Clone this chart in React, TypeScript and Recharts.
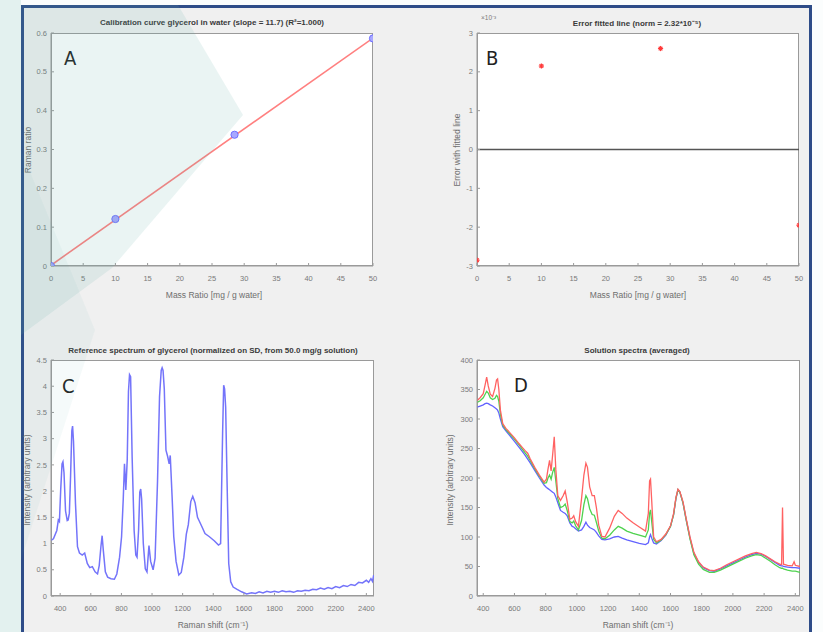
import React from "react";
import { ComposedChart, Line, Scatter, XAxis, YAxis, ReferenceLine } from "recharts";

const FONT = '"Liberation Sans", Arial, Helvetica, sans-serif';
const AXIS = "#9a9a9a";
const TICK = { fontSize: 7.5, fill: "#7a7a7a", fontFamily: FONT };

// A: calibration curve
const massRatio = [0, 10, 28.5, 50];
const ramanRatio = [0.0, 0.121, 0.338, 0.586];
const fitMass = [0, 50];
const fitRatio = [0.002, 0.587];
const massTicks = [0, 5, 10, 15, 20, 25, 30, 35, 40, 45, 50];
const ratioTicks = [0, 0.1, 0.2, 0.3, 0.4, 0.5, 0.6];

// B: residuals (x10^-3)
const errorVal = [-2.85, 2.15, 2.6, -1.95];
const errorTicks = [-3, -2, -1, 0, 1, 2, 3];

// C: reference spectrum
const shiftC = [
  340, 356, 378, 388, 395, 403, 412, 418, 425, 435, 446, 452, 460, 468, 476, 481, 487, 500, 513, 526,
  544, 560, 577, 593, 610, 628, 644, 655, 666, 674, 682, 695, 710, 732, 754, 770, 788, 801, 812, 820,
  829, 838, 846, 853, 860, 870, 883, 894, 902, 912, 920, 926, 932, 943, 956, 967, 980, 991, 1007, 1020,
  1036, 1049, 1060, 1066, 1072, 1080, 1091, 1102, 1112, 1119, 1131, 1142, 1157, 1175, 1191, 1208, 1224, 1237, 1253, 1266,
  1281, 1297, 1310, 1326, 1346, 1375, 1408, 1434, 1448, 1461, 1468, 1474, 1481, 1490, 1501, 1514, 1530, 1553, 1585, 1618,
  1651, 1675, 1700, 1725, 1750, 1775, 1800, 1825, 1850, 1875, 1900, 1925, 1950, 1975, 2000, 2025, 2050, 2075, 2100, 2125,
  2150, 2175, 2200, 2225, 2250, 2275, 2300, 2325, 2350, 2375, 2400, 2415, 2430, 2440, 2448,
];
const intensityC = [
  1.06, 1.09, 1.25, 1.45, 1.42, 2.0, 2.52, 2.56, 2.35, 1.62, 1.44, 1.45, 1.58, 2.3, 3.15, 3.24, 2.95, 1.76, 0.94, 0.82,
  0.78, 0.82, 0.62, 0.54, 0.56, 0.46, 0.42, 0.58, 0.94, 1.15, 0.86, 0.46, 0.36, 0.33, 0.32, 0.42, 0.74, 1.13, 1.85, 2.52,
  2.02, 2.6, 3.9, 4.22, 4.18, 2.65, 1.25, 0.78, 0.74, 1.25, 1.98, 2.04, 1.85, 1.0, 0.52, 0.46, 0.96, 0.66, 0.5, 0.72,
  2.2, 3.8, 4.3, 4.35, 4.3, 3.95, 2.78, 2.66, 2.52, 2.68, 1.9, 1.13, 0.66, 0.4, 0.45, 0.74, 1.18, 1.36, 1.8, 1.9,
  1.78, 1.5, 1.42, 1.32, 1.19, 1.13, 1.05, 0.97, 1.0, 3.1, 4.02, 3.95, 3.6, 2.2, 0.62, 0.27, 0.17, 0.13, 0.08, 0.04,
  0.06, 0.05, 0.08, 0.06, 0.09, 0.07, 0.09, 0.07, 0.1, 0.08, 0.09, 0.07, 0.1, 0.09, 0.11, 0.1, 0.13, 0.12, 0.15, 0.13,
  0.16, 0.14, 0.18, 0.16, 0.2, 0.18, 0.22, 0.2, 0.26, 0.25, 0.3, 0.26, 0.33, 0.28, 0.4,
];
const shiftTicks = [400, 600, 800, 1000, 1200, 1400, 1600, 1800, 2000, 2200, 2400];
const refTicks = [0, 0.5, 1, 1.5, 2, 2.5, 3, 3.5, 4, 4.5];

// D: solution spectra
const shiftD = [
  360, 380, 400, 412, 422, 432, 445, 460, 475, 485, 492, 500, 510, 525, 545, 570, 600, 630, 650, 670,
  685, 700, 730, 760, 790, 805, 815, 825, 835, 845, 855, 865, 878, 895, 912, 925, 938, 955, 970, 980,
  992, 1010, 1030, 1045, 1058, 1068, 1082, 1098, 1112, 1125, 1140, 1160, 1180, 1210, 1240, 1265, 1290, 1320, 1360, 1400,
  1440, 1458, 1466, 1472, 1480, 1492, 1510, 1540, 1570, 1600, 1620, 1635, 1648, 1660, 1680, 1700, 1725, 1750, 1780, 1810,
  1850, 1880, 1920, 1960, 2000, 2040, 2080, 2120, 2150, 2180, 2210, 2240, 2270, 2300, 2312, 2318, 2324, 2350, 2380, 2392,
  2400, 2430,
];
const blueD = [
  320, 322, 324, 326, 327, 326, 324, 322, 319, 317, 315, 310, 300, 287, 280, 272, 262, 252, 245, 238,
  232, 226, 213, 200, 188, 184, 182, 180, 178, 176, 174, 168, 158, 145, 142, 140, 136, 124, 118, 117,
  114, 110, 112, 118, 125, 120, 116, 114, 112, 108, 102, 96, 95, 97, 100, 101, 98, 95, 92, 89,
  87, 90, 100, 104, 98, 90, 88, 94, 103, 118, 138, 165, 180, 176, 158, 130, 98, 72, 57, 48,
  43, 42, 46, 51, 56, 61, 66, 70, 72, 71, 67, 62, 57, 52, 51, 51, 50, 49, 48, 48,
  48, 47,
];
const greenD = [
  328, 331, 336, 342, 347, 344, 336, 333, 335, 340, 338, 330, 308, 290, 282, 275, 266, 256, 249, 242,
  237, 230, 216, 203, 191, 192, 200, 205, 198, 210, 218, 195, 165, 150, 152, 156, 145, 126, 124, 127,
  119, 112, 128, 155, 170, 165, 148, 138, 137, 125, 110, 98, 97, 103, 112, 118, 115, 110, 106, 103,
  100, 112, 140, 146, 125, 96, 90, 95, 104, 118, 138, 166, 180, 176, 158, 130, 97, 70, 54, 45,
  40, 40, 44, 49, 54, 59, 64, 68, 70, 69, 64, 59, 53, 48, 47, 47, 46, 44, 42, 42,
  42, 40,
];
const redD = [
  331, 336, 343, 358, 371, 356, 342, 338, 352, 366, 368, 350, 315, 292, 284, 277, 268, 258, 252, 246,
  242, 233, 218, 205, 193, 198, 215, 230, 212, 240, 270, 215, 170, 162, 170, 178, 160, 130, 132, 136,
  126, 118, 165, 205, 225, 218, 185, 170, 170, 150, 120, 101, 100, 115, 135, 145, 140, 132, 124, 117,
  110, 140, 195, 198, 160, 100, 92, 96, 105, 119, 140, 167, 181, 177, 160, 132, 100, 74, 58, 49,
  44, 43, 47, 53, 58, 63, 68, 72, 74, 72, 68, 63, 58, 54, 53, 150, 54, 52, 51, 58,
  52, 50,
];
const solTicks = [0, 50, 100, 150, 200, 250, 300, 350, 400];

const ptsA = massRatio.map((x, i) => ({ x, y: ramanRatio[i] }));
const fitA = fitMass.map((x, i) => ({ x, y: fitRatio[i] }));
const ptsB = massRatio.map((x, i) => ({ x, y: errorVal[i] }));
const specC = shiftC.map((x, i) => ({ x, y: intensityC[i] }));
const specD = shiftD.map((x, i) => ({ x, b: blueD[i], g: greenD[i], r: redD[i] }));

const YW = 34;
const TM = 6;
const RM = 14;
const XH = 22;

function Panel(props: any) {
  const { left, top, w, h, xDomain, xTicks, yDomain, yTicks, data, children } = props;
  return (
    <>
      <div
        style={{
          position: "absolute",
          left,
          top,
          width: w,
          height: h,
          background: "#fff",
          border: `1px solid ${AXIS}`,
          boxSizing: "border-box",
        }}
      />
      <div style={{ position: "absolute", left: left - YW, top: top - TM }}>
        <ComposedChart
          width={YW + w + RM}
          height={TM + h + XH}
          data={data}
          margin={{ top: TM, right: RM, left: 0, bottom: 0 }}
        >
          <XAxis
            dataKey="x"
            type="number"
            domain={xDomain}
            ticks={xTicks}
            interval={0}
            allowDataOverflow
            stroke={AXIS}
            tick={TICK}
            tickSize={-3}
            tickMargin={13}
            height={XH}
          />
          <XAxis
            xAxisId="t"
            orientation="top"
            dataKey="x"
            type="number"
            domain={xDomain}
            ticks={xTicks}
            interval={0}
            allowDataOverflow
            stroke={AXIS}
            tick={false}
            tickSize={-3}
            height={0}
          />
          <YAxis
            type="number"
            domain={yDomain}
            ticks={yTicks}
            interval={0}
            allowDataOverflow
            stroke={AXIS}
            tick={TICK}
            tickSize={-3}
            tickMargin={7}
            width={YW}
          />
          <YAxis
            yAxisId="r"
            orientation="right"
            type="number"
            domain={yDomain}
            ticks={yTicks}
            interval={0}
            allowDataOverflow
            stroke={AXIS}
            tick={false}
            tickSize={-3}
            width={0}
          />
          {children}
        </ComposedChart>
      </div>
    </>
  );
}

const Asterisk = (p: any) => {
  const { cx, cy } = p;
  const r = 2.6;
  return (
    <g stroke="#ff3b3b" strokeWidth={1.2}>
      <line x1={cx - r} y1={cy} x2={cx + r} y2={cy} />
      <line x1={cx} y1={cy - r} x2={cx} y2={cy + r} />
      <line x1={cx - r * 0.7} y1={cy - r * 0.7} x2={cx + r * 0.7} y2={cy + r * 0.7} />
      <line x1={cx - r * 0.7} y1={cy + r * 0.7} x2={cx + r * 0.7} y2={cy - r * 0.7} />
    </g>
  );
};

const Dot = (p: any) => (
  <circle cx={p.cx} cy={p.cy} r={3.6} fill="#a8a8ff" stroke="#7070ff" strokeWidth={1} />
);

const txt = (s: any): React.CSSProperties => ({
  position: "absolute",
  whiteSpace: "nowrap",
  fontFamily: FONT,
  lineHeight: 1,
  ...s,
});

function Title({ x, y, children }: any) {
  return (
    <div style={txt({ left: x, top: y - 4, transform: "translateX(-50%)", fontSize: 8, fontWeight: "bold", color: "#3a3a3a" })}>
      {children}
    </div>
  );
}

function XLabel({ x, y, children }: any) {
  return (
    <div style={txt({ left: x, top: y - 4.5, transform: "translateX(-50%)", fontSize: 8.5, color: "#6e6e6e" })}>
      {children}
    </div>
  );
}

function YLabel({ x, y, children }: any) {
  return (
    <div
      style={txt({
        left: x,
        top: y,
        transform: "translate(-50%, -50%) rotate(-90deg)",
        fontSize: 8.5,
        color: "#6e6e6e",
      })}
    >
      {children}
    </div>
  );
}

function Letter({ x, y, children }: any) {
  return (
    <div
      style={txt({
        left: x,
        top: y,
        fontSize: 20,
        fontWeight: 500,
        fontFamily: '"DejaVu Sans Condensed", "Liberation Sans Narrow", sans-serif',
        color: "#222",
      })}
    >
      {children}
    </div>
  );
}

export default function App() {
  return (
    <div style={{ position: "absolute", left: 0, top: 0, width: 823, height: 632, overflow: "hidden", background: "#fbfdfd" }}>
      <div style={{ position: "absolute", left: 0, top: 0, width: 21, height: 632, background: "#e9f4f3" }} />
      <div
        style={{
          position: "absolute",
          left: 21,
          top: 5,
          width: 791,
          height: 700,
          background: "#f0f0f0",
          border: "3px solid #2e4c88",
          boxSizing: "border-box",
        }}
      />

      <Panel left={51} top={33} w={322} h={233} xDomain={[0, 50]} xTicks={massTicks} yDomain={[0, 0.6]} yTicks={ratioTicks}>
        <Line data={fitA} dataKey="y" stroke="#ff8080" strokeWidth={1.6} dot={false} isAnimationActive={false} />
        <Scatter data={ptsA} dataKey="y" shape={Dot} isAnimationActive={false} />
      </Panel>

      <Panel left={477} top={33} w={322} h={233} xDomain={[0, 50]} xTicks={massTicks} yDomain={[-3, 3]} yTicks={errorTicks}>
        <ReferenceLine y={0} stroke="#555" strokeWidth={1.3} />
        <Scatter data={ptsB} dataKey="y" shape={Asterisk} isAnimationActive={false} />
      </Panel>

      <Panel left={51} top={360} w={323} h={236} data={specC} xDomain={[340, 2450]} xTicks={shiftTicks} yDomain={[0, 4.5]} yTicks={refTicks}>
        <Line dataKey="y" stroke="#7474fa" strokeWidth={1.5} dot={false} isAnimationActive={false} />
      </Panel>

      <Panel left={477} top={360} w={323} h={236} data={specD} xDomain={[360, 2430]} xTicks={shiftTicks} yDomain={[0, 400]} yTicks={solTicks}>
        <Line dataKey="b" stroke="#6262ff" strokeWidth={1.3} dot={false} isAnimationActive={false} />
        <Line dataKey="g" stroke="#4fd24f" strokeWidth={1.3} dot={false} isAnimationActive={false} />
        <Line dataKey="r" stroke="#ff6262" strokeWidth={1.3} dot={false} isAnimationActive={false} />
      </Panel>

      <Title x={212} y={23}>Calibration curve glycerol in water (slope = 11.7) (R²=1.000)</Title>
      <Title x={637} y={24}>Error fitted line (norm = 2.32*10⁻⁵)</Title>
      <Title x={213} y={351}>Reference spectrum of glycerol (normalized on SD, from 50.0 mg/g solution)</Title>
      <Title x={637} y={351}>Solution spectra (averaged)</Title>

      <div style={txt({ left: 481, top: 15, fontSize: 6.5, color: "#7a7a7a" })}>×10⁻³</div>

      <XLabel x={214} y={295}>Mass Ratio [mg / g water]</XLabel>
      <XLabel x={638} y={295}>Mass Ratio [mg / g water]</XLabel>
      <XLabel x={213} y={625}>Raman shift (cm⁻¹)</XLabel>
      <XLabel x={638} y={625}>Raman shift (cm⁻¹)</XLabel>

      <YLabel x={28} y={150}>Raman ratio</YLabel>
      <YLabel x={457} y={150}>Error with fitted line</YLabel>
      <YLabel x={27} y={480}>Intensity (arbitrary units)</YLabel>
      <YLabel x={450} y={480}>Intensity (arbitrary units)</YLabel>

      <Letter x={64} y={48}>A</Letter>
      <Letter x={486} y={48}>B</Letter>
      <Letter x={62} y={376}>C</Letter>
      <Letter x={514} y={375}>D</Letter>

      <svg width={823} height={632} style={{ position: "absolute", left: 0, top: 0, pointerEvents: "none" }}>
        <polygon points="21,5 178,5 243,115 112,268 21,335" fill="rgb(90,170,165)" fillOpacity={0.13} />
        <polygon points="21,150 95,330 21,560" fill="rgb(90,170,165)" fillOpacity={0.06} />
        <polygon points="0,0 21,0 21,632 0,632" fill="rgb(90,170,165)" fillOpacity={0.04} />
      </svg>
    </div>
  );
}
